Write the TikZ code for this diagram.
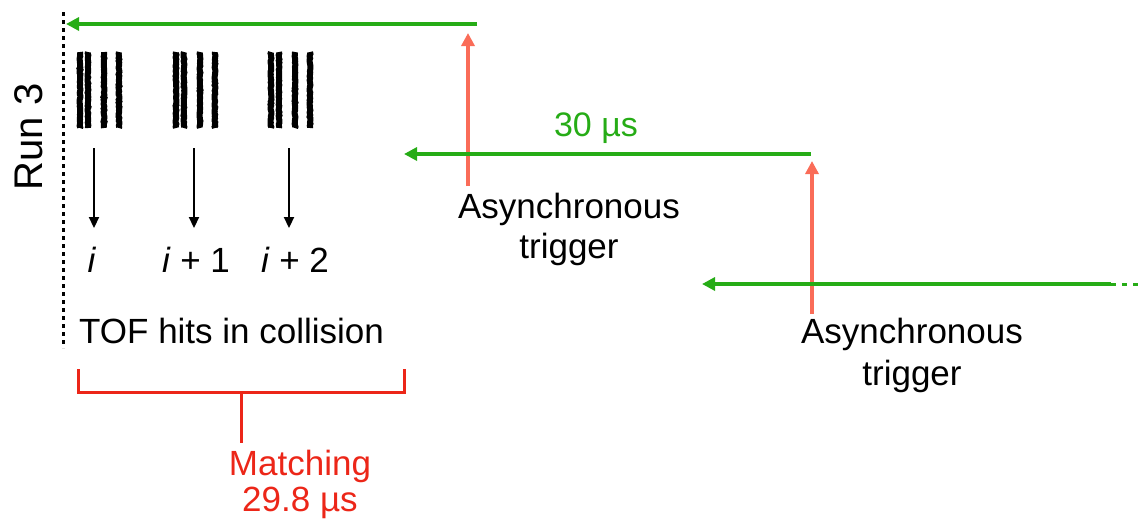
\documentclass[tikz,border=0pt]{standalone}
\usepackage{fontspec}
\setmainfont{Liberation Sans}
\usetikzlibrary{arrows.meta,decorations.pathmorphing}
\definecolor{cgreen}{RGB}{38,172,22}
\definecolor{cred}{RGB}{236,38,24}
\definecolor{csalmon}{RGB}{250,108,88}
\tikzset{
  txt/.style={inner sep=0pt, anchor=base, font=\fontsize{35}{40}\selectfont},
  greenarrow/.style={draw=cgreen, line width=3.2pt, -{Triangle[width=13pt,length=13pt]}},
  trigarrow/.style={draw=csalmon, line width=3.2pt, -{Triangle[width=13pt,length=13pt]}},
  hitarrow/.style={draw=black, line width=2.2pt, -{Triangle[width=10pt,length=11pt]}},
  hitbar/.style={draw=black, line width=6pt, decorate, decoration={random steps, segment length=1.5pt, amplitude=0.45pt}},
  bracket/.style={draw=cred, line width=3pt},
}
\begin{document}
\begin{tikzpicture}[x=1pt,y=-1pt]
\useasboundingbox (0,0) rectangle (1142,520);
% dotted start line
\draw[line width=3pt, dash pattern=on 4pt off 4pt] (63,12) -- (63,348);
% Run 3
\node[txt, font=\fontsize{40}{44}\selectfont, rotate=90, anchor=base] (run) at (42,137) {Run 3};
% hit bars
\foreach \gx in {0,96,191} {
  \foreach \bx in {80,88,104,119} {
    \draw[hitbar] (\bx+\gx,52) -- (\bx+\gx,128);
  }
}
% labels
\node[txt] (li) at (92,272) {\textit{i}};
\node[txt] (li1) at (196,272) {\textit{i} + 1};
\node[txt] (li2) at (295,272) {\textit{i} + 2};
\coordinate (a0) at (94,148);
\coordinate (a1) at (194,148);
\coordinate (a2) at (289,148);
\coordinate (e0) at (94,228);
\coordinate (e1) at (194,228);
\coordinate (e2) at (289,228);
\draw[hitarrow] (a0) -- (e0);
\draw[hitarrow] (a1) -- (e1);
\draw[hitarrow] (a2) -- (e2);
\node[txt, anchor=base west] (tof) at (79,343) {TOF hits in collision};
% bracket
\coordinate (bl) at (78,369);
\coordinate (br) at (404,369);
\coordinate (bm) at (241,392);
\coordinate (bs) at (241,443);
\draw[bracket] (bl) -- (78,392) -- (404,392) -- (br);
\draw[bracket] (bm) -- (bs);
\node[txt, text=cred] (match) at (300,475) {Matching};
\node[txt, text=cred] (matchv) at (300,511) {29.8 µs};
% top green arrow
\coordinate (g1s) at (477,24);
\coordinate (g1e) at (66,24);
\draw[greenarrow] (g1s) -- (g1e);
% trigger 1
\node[txt] (as1) at (569,218) {Asynchronous};
\node[txt] (tr1) at (569,258) {trigger};
\coordinate (t1s) at (468,186);
\coordinate (t1e) at (468,33);
\draw[trigarrow] (t1s) -- (t1e);
% middle green arrow
\coordinate (g2s) at (811,154);
\coordinate (g2e) at (404,154);
\draw[greenarrow] (g2s) -- (g2e);
\node[txt, text=cgreen, font=\fontsize{34}{38}\selectfont] (t30) at (596,136) {30 µs};
% trigger 2
\coordinate (t2s) at (812,314);
\coordinate (t2e) at (812,161);
\draw[trigarrow] (t2s) -- (t2e);
\node[txt] (as2) at (912,343) {Asynchronous};
\node[txt] (tr2) at (912,385) {trigger};
% bottom green arrow
\coordinate (g3s) at (1111,284);
\coordinate (g3e) at (702,284);
\coordinate (g3d) at (1142,284);
\draw[greenarrow] (g3s) -- (g3e);
\draw[draw=cgreen, line width=3pt, dash pattern=on 5pt off 6pt] (g3s) -- (g3d);
\end{tikzpicture}
\end{document}
